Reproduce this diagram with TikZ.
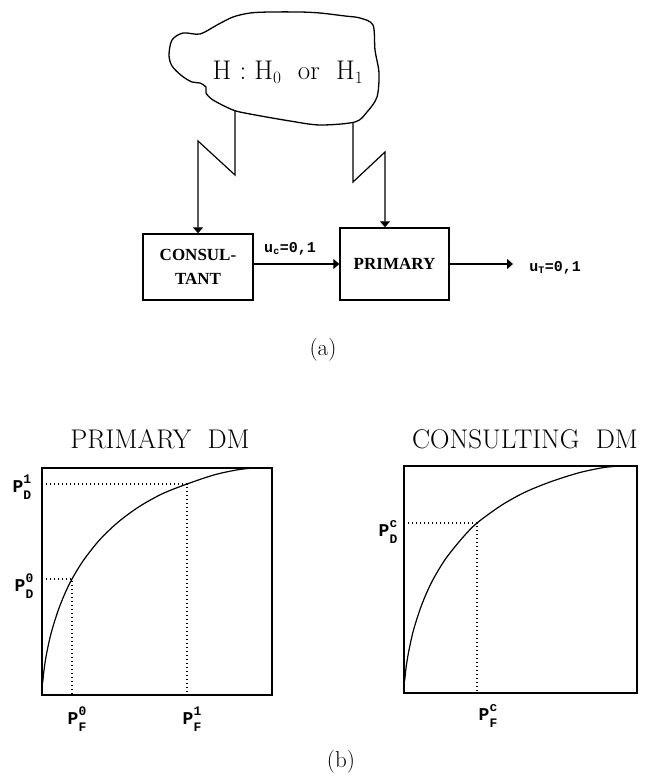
\documentclass[tikz,border=0pt]{standalone}
\usepackage{amsmath}
\usepackage{fontspec}
\usepackage{tikz}
\usetikzlibrary{arrows.meta}
\newfontfamily\labfont{Liberation Mono}
\newfontfamily\boxfont{Liberation Serif}
\newcommand{\plab}[2]{{\labfont\bfseries P}\rlap{\raisebox{9pt}{\labfont\bfseries\fontsize{13}{13}\selectfont #2}}\raisebox{-7pt}{\labfont\bfseries\fontsize{13}{13}\selectfont #1}}
\newcommand{\ulab}[1]{{\labfont\bfseries u}$_{\hbox{\labfont\bfseries\fontsize{10}{10}\selectfont #1}}${\labfont\bfseries =0,1}}

\begin{document}
\begin{tikzpicture}[x=1pt, y=-1pt, line width=1.2pt,
	dm/.style={draw, line width=1.4pt, inner sep=0pt, align=center, font=\boxfont\bfseries\fontsize{17}{24}\selectfont},
	sig/.style={-{Triangle[width=10pt,length=6pt]}},
	guide/.style={line width=1.1pt, dash pattern=on 1.4pt off 2.6pt},
	plabel/.style={inner sep=0pt, font=\fontsize{18}{18}\selectfont},
	ulabel/.style={inner sep=0pt, font=\fontsize{15}{15}\selectfont},
	title/.style={inner sep=0pt, font=\fontsize{27}{27}\selectfont\addfontfeature{LetterSpace=5}},
	caption/.style={inner sep=0pt, font=\fontsize{23}{23}\selectfont}]
	\useasboundingbox (0,0) rectangle (651,776);
% draw hypothesis cloud
	\draw[line width=1.3pt] plot[smooth cycle, tension=0.5] coordinates {(172,40) (183,33) (200,34) (217,25) (233,17) (250,13) (270,12) (300,12) (320,13) (345,16) (360,18) (373,25) (375,50) (379,73) (377,97) (367,112) (355,122) (320,125) (290,121) (250,114) (233,110) (213,100) (206,93) (206,87) (200,83) (192,82) (182,76) (172,66) (169,55)};
	\node[title, anchor=base] (hyp) at (288,80) {H : H$_0$\ \ or\ \ H$_1$};
	\coordinate (hl) at (235,111);
	\coordinate (hr) at (353,123);

% draw decision makers
	\node[dm, minimum width=110pt, minimum height=66pt] (cons) at (198,267) {CONSUL-\\TANT};
	\node[dm, minimum width=109pt, minimum height=72pt] (prim) at (394.5,264) {PRIMARY};
	\coordinate (out) at (513,264);

% draw links
	\draw[sig] (hl) -- (235,175) -- (198,141) -- (cons.north);
	\draw[sig] (hr) -- (353,182) -- (385,152) -- (385,152 |- prim.north);
	\draw[sig] (cons.east |- prim.west) -- (prim.west);
	\draw[sig] (prim.east) -- (out);
	\node[ulabel] (uc) at (290,249) {\ulab{c}};
	\node[ulabel] (ut) at (555,268) {\ulab{T}};
	\node[caption] (capa) at (323,350) {(a)};

% draw ROC of primary DM
	\node[title] (ttl1) at (160,439) {PRIMARY\ \ DM};
	\draw[line width=1.3pt] (42,468) rectangle (272,695);
	\draw plot[smooth] coordinates {(42.7,682.5) (43.2,677.5) (44.3,667.8) (46.6,653.5) (51.2,632.8) (58.1,610.6) (65,593.3) (72,579) (83.4,560.4) (99.5,540) (117.9,522.3) (138.6,507) (161.6,494.1) (187,484) (214.5,474.8) (237.5,469.8) (253.6,468)};
	\draw[guide] (42,484) -- (187,484) -- (187,695);
	\draw[guide] (42,579) -- (72,579) -- (72,695);
	\node[plabel] (pd1) at (22,487) {\plab{D}{1}};
	\node[plabel] (pd0) at (24,586) {\plab{D}{0}};
	\node[plabel] (pf0) at (77,719) {\plab{F}{0}};
	\node[plabel] (pf1) at (192,719) {\plab{F}{1}};

% draw ROC of consulting DM
	\node[title] (ttl2) at (525,439) {CONSULTING\ \ DM};
	\draw[line width=1.3pt] (404,466) rectangle (637,693);
	\draw plot[smooth] coordinates {(404.7,680.5) (405.2,675.5) (406.3,665.8) (408.7,651.5) (413.3,630.8) (420.3,608.6) (427.3,591.3) (434.3,577.2) (445.9,558.4) (462.3,538) (477,523) (501.9,505) (525.2,492.1) (550.8,481.7) (578.8,472.8) (602.1,467.8) (618.4,466)};
	\draw[guide] (404,523) -- (477,523) -- (477,693);
	\node[plabel] (pdc) at (388,532) {\plab{D}{c}};
	\node[plabel] (pfc) at (488,716) {\plab{F}{c}};
	\node[caption] (capb) at (341,762) {(b)};
\end{tikzpicture}
\end{document}
